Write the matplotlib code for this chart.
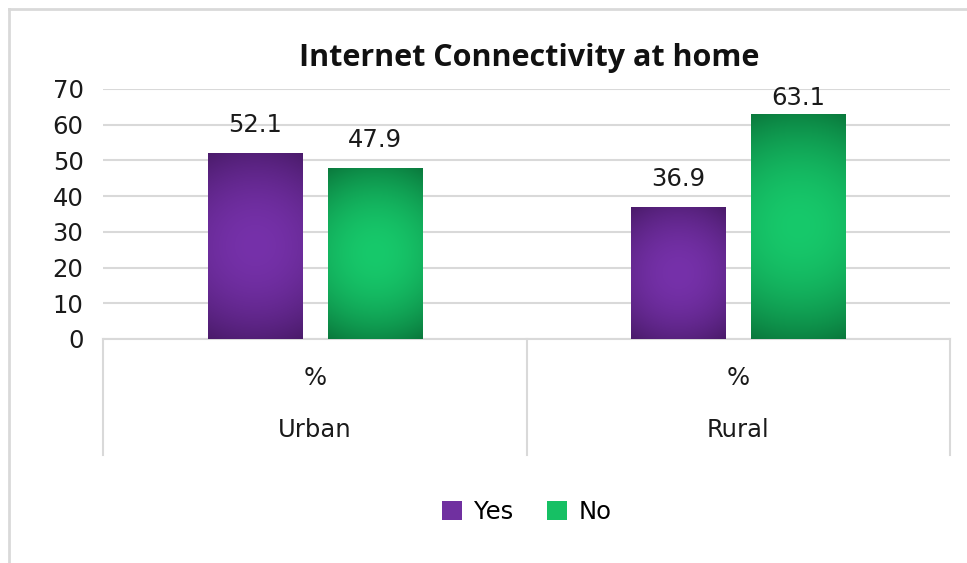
import matplotlib
matplotlib.use("Agg")
import matplotlib.pyplot as plt
import matplotlib.colors as mcolors
from matplotlib.lines import Line2D
from matplotlib.patches import Patch
import numpy as np

# data
regions = ["Urban", "Rural"]
sub_label = "%"
series = ["Yes", "No"]
yes_vals = [52.1, 36.9]
no_vals = [47.9, 63.1]
yticks = [0, 10, 20, 30, 40, 50, 60, 70]
title = "Internet Connectivity at home"

# styles
center_cols = ["#7631AA", "#17C96B"]
edge_cols = ["#4A1B6A", "#0A783C"]
legend_cols = ["#7030A0", "#16C064"]
grid_col = "#d9d9d9"
text_col = "#1a1a1a"


def gradient_fill(ax, bar, c_in, c_out):
    x0, y0 = bar.get_x(), bar.get_y()
    w, h = bar.get_width(), bar.get_height()
    # bar size in pixels so the gradient is round, not stretched
    p0 = ax.transData.transform((x0, y0))
    p1 = ax.transData.transform((x0 + w, y0 + h))
    wp, hp = abs(p1[0] - p0[0]), abs(p1[1] - p0[1])
    nx, ny = 60, 200
    gx, gy = np.meshgrid(np.linspace(-wp / 2, wp / 2, nx), np.linspace(-hp / 2, hp / 2, ny))
    r = np.sqrt(gx ** 2 + gy ** 2) / np.sqrt((wp / 2) ** 2 + (hp / 2) ** 2)
    r = np.clip(r, 0, 1) ** 1.9
    a = np.array(mcolors.to_rgb(c_in))
    b = np.array(mcolors.to_rgb(c_out))
    img = a[None, None, :] * (1 - r[..., None]) + b[None, None, :] * r[..., None]
    im = ax.imshow(img, extent=[x0, x0 + w, y0, y0 + h], aspect="auto",
                   origin="lower", zorder=bar.get_zorder(), interpolation="bilinear")
    im.set_clip_path(bar)


def main():
    fig = plt.figure(figsize=(9.67, 5.63), dpi=100)
    ax = fig.add_axes([103 / 967, 1 - 339 / 563, 847 / 967, 250 / 563])
    ax.set_xlim(-0.5, 1.5)
    ax.set_ylim(0, 70)

    x = np.arange(len(regions))
    off = 0.142
    width = 0.222
    for k, vals in enumerate([yes_vals, no_vals]):
        bars = ax.bar(x + (-off if k == 0 else off), vals, width,
                      color=center_cols[k], edgecolor="#ffffff80", linewidth=0.8, zorder=3)
        for b, v in zip(bars, vals):
            gradient_fill(ax, b, center_cols[k], edge_cols[k])
            ax.text(b.get_x() + b.get_width() / 2, min(v + 7.8, 67.6), f"{v:.1f}",
                    ha="center", va="center", fontsize=17.5, color=text_col,
                    family="DejaVu Sans")

    ax.set_yticks(yticks)
    ax.set_yticklabels([str(t) for t in yticks], fontsize=17.5, color=text_col,
                       family="DejaVu Sans")
    ax.tick_params(axis="y", length=0, pad=14)
    ax.set_xticks([])
    ax.grid(axis="y", color=grid_col, linewidth=1.5, zorder=0)
    ax.set_axisbelow(True)
    for s in ["top", "right", "left"]:
        ax.spines[s].set_visible(False)
    ax.spines["bottom"].set_color(grid_col)
    ax.spines["bottom"].set_linewidth(1.5)

    # multi-level category axis
    trans = ax.get_xaxis_transform()
    for xb in [-0.5, 0.5, 1.5]:
        ax.add_line(Line2D([xb, xb], [0, -0.465], transform=trans, color=grid_col,
                           linewidth=1.5, clip_on=False))
    for i, reg in enumerate(regions):
        ax.text(i, -0.155, sub_label, transform=trans, ha="center", va="center",
                fontsize=17.5, color=text_col, family="DejaVu Sans")
        ax.text(i, -0.365, reg, transform=trans, ha="center", va="center",
                fontsize=17.5, color=text_col, family="DejaVu Sans")

    fig.text(529 / 967, 1 - 58 / 563, title, ha="center", va="center",
             fontsize=22, fontweight="bold", color="#111111", family="Open Sans")

    handles = [Patch(facecolor=c, edgecolor="none") for c in legend_cols]
    fig.legend(handles, series, loc="center", bbox_to_anchor=(527 / 967, 1 - 512 / 563),
               ncol=2, frameon=False, handlelength=0.8, handleheight=0.8,
               handletextpad=0.5, columnspacing=1.4,
               prop={"family": "DejaVu Sans", "size": 17.5})

    # chart frame (top and left edges visible)
    fig.add_artist(Line2D([9 / 967, 1], [1 - 9 / 563] * 2, transform=fig.transFigure,
                          color="#d9d9d9", linewidth=2))
    fig.add_artist(Line2D([9 / 967] * 2, [0, 1 - 9 / 563], transform=fig.transFigure,
                          color="#d9d9d9", linewidth=2))

    fig.savefig("out.png", dpi=100)


if __name__ == "__main__":
    main()
